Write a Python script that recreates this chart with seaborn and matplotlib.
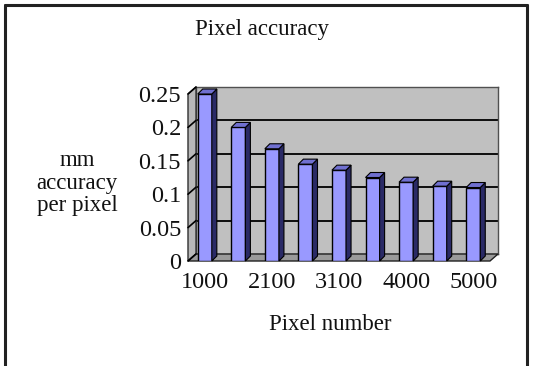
import matplotlib
matplotlib.use("Agg")
import matplotlib.pyplot as plt
from matplotlib.patches import Polygon
from matplotlib.lines import Line2D
import seaborn as sns
import pandas as pd

# ---- data ----
pixel_numbers = ["1000", "1500", "2100", "2600", "3100", "3500", "4000", "4500", "5000"]
accuracy = [0.25, 0.20, 0.168, 0.145, 0.136, 0.125, 0.118, 0.112, 0.110]
shown_labels = ["1000", "", "2100", "", "3100", "", "4000", "", "5000"]
y_ticks = [0, 0.05, 0.1, 0.15, 0.2, 0.25]
y_tick_labels = ["0", "0.05", "0.1", "0.15", "0.2", "0.25"]

df = pd.DataFrame({"pixel": pixel_numbers, "acc": accuracy})

sns.set_theme(style="white")
plt.rcParams["font.family"] = ["Liberation Serif", "DejaVu Serif"]

W, H = 534, 366
fig = plt.figure(figsize=(W / 100, H / 100), dpi=100)
fig.patch.set_facecolor("white")


def fx(x):
    return x / W


def fy(y):
    return 1 - y / H


# front plane of the 3D box (pixels)
FL, FR, FT, FB = 188, 490, 94, 261
DX, DY = 8, 7  # depth offset

# back wall axes
axb = fig.add_axes([fx(FL + DX), fy(FB - DY), (FR - FL) / W, (FB - FT) / H])
axb.set_facecolor("#c0c0c0")
axb.set_xlim(0, 1)
axb.set_ylim(0, 0.25)
for yv in y_ticks[1:]:
    axb.axhline(yv, color="black", lw=1.3)
axb.set_xticks([])
axb.set_yticks([])
for s in axb.spines.values():
    s.set_color("#505050")
    s.set_linewidth(1.0)
axb.set_zorder(0)

# left wall and floor
left_wall = Polygon([(fx(FL), fy(FB)), (fx(FL), fy(FT)), (fx(FL + DX), fy(FT - DY)),
                     (fx(FL + DX), fy(FB - DY))], closed=True, transform=fig.transFigure,
                    facecolor="#b8b8b8", edgecolor="#303030", lw=1.0, zorder=1)
floor = Polygon([(fx(FL), fy(FB)), (fx(FR), fy(FB)), (fx(FR + DX), fy(FB - DY)),
                 (fx(FL + DX), fy(FB - DY))], closed=True, transform=fig.transFigure,
                facecolor="#9a9a9a", edgecolor="#202020", lw=1.0, zorder=1)
fig.add_artist(left_wall)
fig.add_artist(floor)

# main axes (front plane) with bars
ax = fig.add_axes([fx(FL), fy(FB), (FR - FL) / W, (FB - FT) / H])
ax.set_zorder(2)
ax.patch.set_alpha(0)
sns.barplot(data=df, x="pixel", y="acc", ax=ax, color="#9999ff", width=0.42,
            edgecolor="black", linewidth=1.0, saturation=1)
ax.set_ylim(0, 0.25)
ax.set_xlim(-0.5, len(pixel_numbers) - 0.5)
for s in ax.spines.values():
    s.set_visible(False)

# diagonal tick lines on left wall
for yv in y_ticks:
    disp = ax.transData.transform((-0.5, yv))
    p0 = fig.transFigure.inverted().transform(disp)
    fig.add_artist(Line2D([p0[0], p0[0] + DX / W], [p0[1], p0[1] + DY / H],
                          transform=fig.transFigure, color="black", lw=1.2, zorder=1.5))

# 3D faces of bars (side & top), derived from the drawn bar patches
bdx, bdy = 5 / W, 5 / H
inv = fig.transFigure.inverted()
for p in list(ax.patches):
    x0, y0 = p.get_x(), p.get_y()
    x1, y1 = x0 + p.get_width(), y0 + p.get_height()
    (ax0, ay0) = inv.transform(ax.transData.transform((x0, y0)))
    (ax1, ay1) = inv.transform(ax.transData.transform((x1, y1)))
    side = Polygon([(ax1, ay0), (ax1, ay1), (ax1 + bdx, ay1 + bdy), (ax1 + bdx, ay0 + bdy)],
                   closed=True, transform=fig.transFigure, facecolor="#2a2a66",
                   edgecolor="black", lw=0.8, zorder=3)
    top = Polygon([(ax0, ay1), (ax1, ay1), (ax1 + bdx, ay1 + bdy), (ax0 + bdx, ay1 + bdy)],
                  closed=True, transform=fig.transFigure, facecolor="#7070d0",
                  edgecolor="black", lw=0.8, zorder=3)
    fig.add_artist(side)
    fig.add_artist(top)

ax.set_yticks(y_ticks)
ax.set_yticklabels(y_tick_labels)
ax.set_xticks(range(len(pixel_numbers)))
ax.set_xticklabels(shown_labels)
ax.tick_params(axis="y", length=0, pad=5, labelsize=17.5, colors="#111111")
ax.tick_params(axis="x", length=0, pad=8, labelsize=17.5, colors="#111111")
ax.set_xlabel("")
ax.set_ylabel("")

# texts
fig.text(fx(262), fy(30), "Pixel accuracy", ha="center", va="center", fontsize=16.5, color="#111111")
fig.text(fx(330), fy(325), "Pixel number", ha="center", va="center", fontsize=16.5, color="#111111")
fig.text(fx(77), fy(183), "mm\naccuracy\nper pixel", ha="center", va="center",
         fontsize=16.5, color="#111111", linespacing=1.12)

# figure border (no bottom edge visible)
fig.add_artist(Line2D([fx(5), fx(5)], [0, fy(5)], transform=fig.transFigure, color="#222222", lw=2.2))
fig.add_artist(Line2D([fx(527), fx(527)], [0, fy(5)], transform=fig.transFigure, color="#222222", lw=2.2))
fig.add_artist(Line2D([fx(5), fx(527)], [fy(5), fy(5)], transform=fig.transFigure, color="#222222", lw=2.2))

fig.savefig("out.png", dpi=100, facecolor="white")
